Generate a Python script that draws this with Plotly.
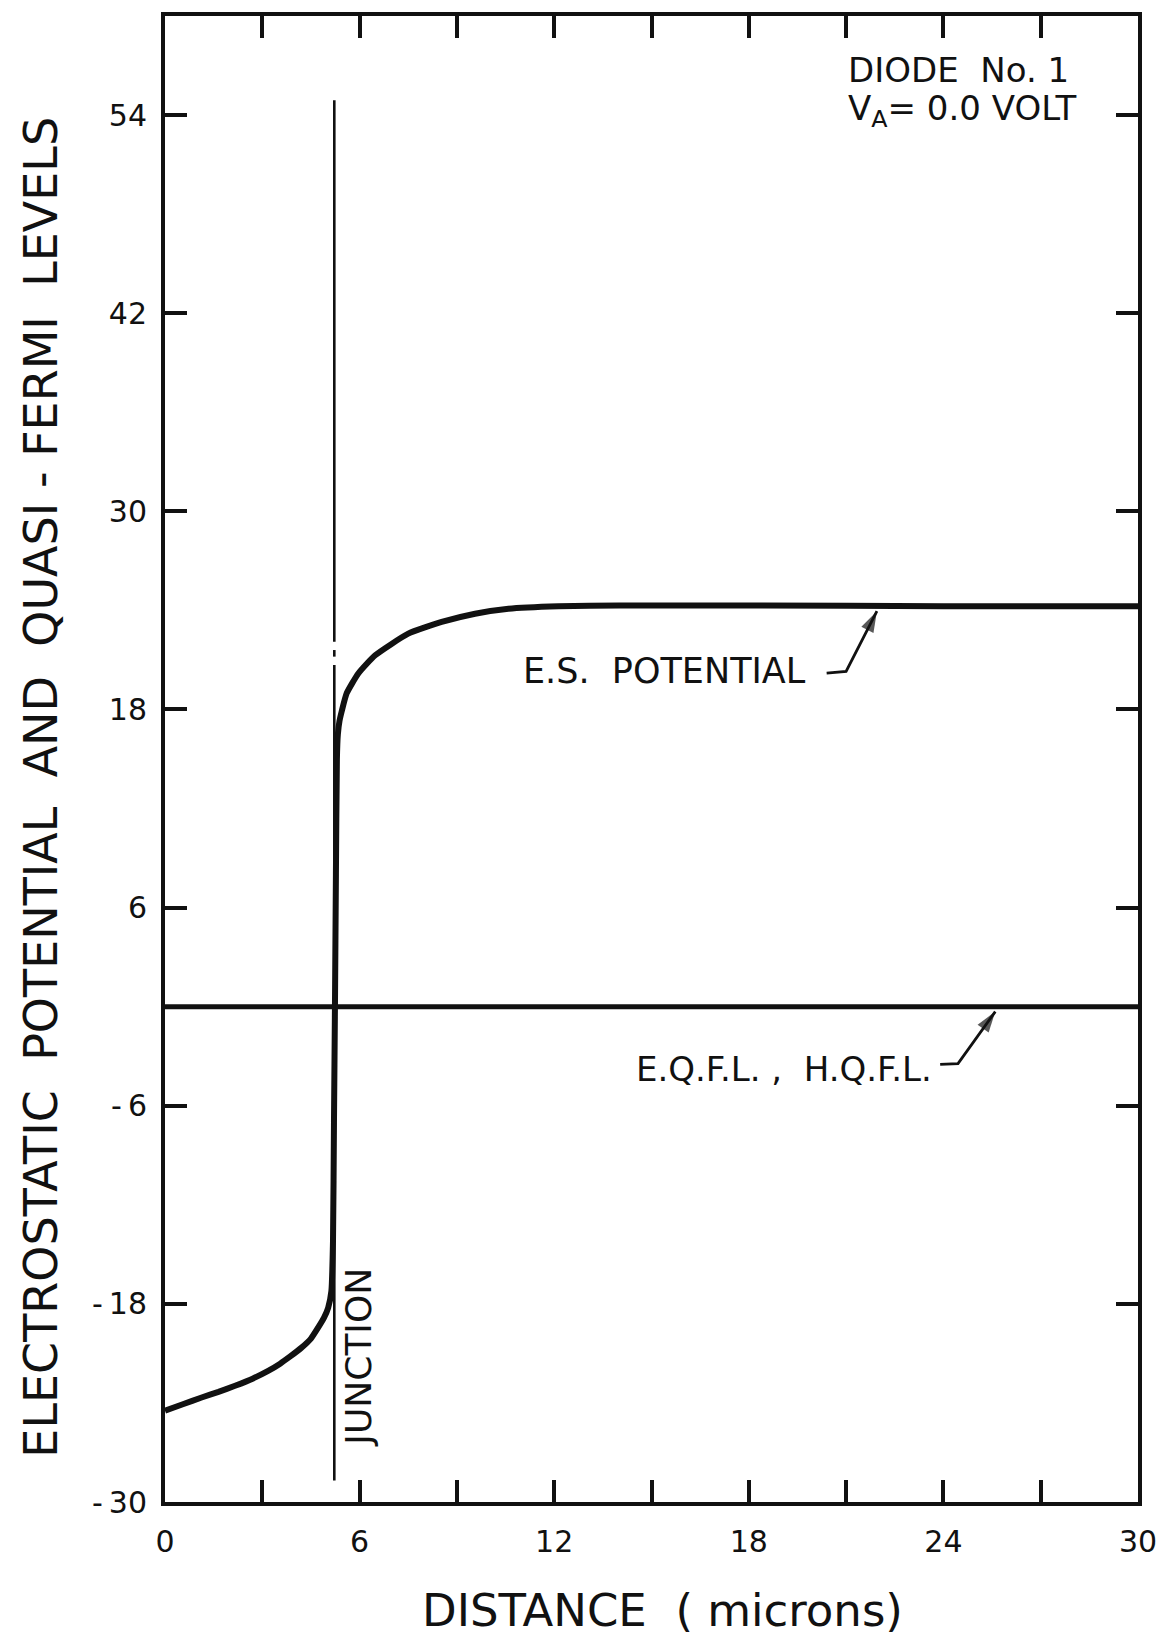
import plotly.graph_objects as go

# ---- data ----
es_x = [0, 0.55, 1.13, 1.65, 2.16, 2.7, 3.18, 3.55, 3.85, 4.21, 4.5, 4.72, 4.9, 5.03, 5.13, 5.18,
        5.21, 5.24, 5.27, 5.30, 5.33, 5.38, 5.45, 5.60, 5.96, 6.48, 7.50, 8.53, 9.56, 10.59,
        12.13, 14, 18, 24, 30]
es_y = [-24.47, -24.08, -23.67, -23.33, -22.96, -22.53, -22.06, -21.62, -21.2, -20.65, -20.1,
        -19.44, -18.85, -18.24, -17.23, -14.2, -7, 0, 8, 15.0, 16.5, 17.3, 17.9, 18.97, 20.18,
        21.28, 22.59, 23.30, 23.80, 24.10, 24.25, 24.3, 24.3, 24.25, 24.25]

qfl_x = [0, 30]
qfl_y = [0, 0]

junction_x = 5.22
junction_segments = [(54.9, 22.1), (21.6, 21.2), (20.7, -28.7)]

x_label_step = 6
x_tick_step = 3
y_tickvals = [-30, -18, -6, 6, 18, 30, 42, 54]
y_ticktext = ["-\u200930", "-\u200918", "-\u20096", "6", "18", "30", "42", "54"]

# label hooks: (dash start, bend, arrow tip)
es_hook_x = [20.4, 21.0, 21.95]
es_hook_y = [20.2, 20.3, 23.95]
qfl_hook_x = [23.9, 24.45, 25.6]
qfl_hook_y = [-3.5, -3.45, -0.3]

FONT = "DejaVu Sans"
INK = "#111111"
BODY = 8  # page body margin offset

fig = go.Figure()

fig.add_trace(go.Scatter(x=es_x, y=es_y, mode="lines",
                         line=dict(color=INK, width=6, shape="spline", smoothing=0.5),
                         showlegend=False, hoverinfo="skip"))
fig.add_trace(go.Scatter(x=qfl_x, y=qfl_y, mode="lines",
                         line=dict(color=INK, width=5), showlegend=False, hoverinfo="skip"))

jx, jy = [], []
for a, b in junction_segments:
    jx += [junction_x, junction_x, None]
    jy += [a, b, None]
fig.add_trace(go.Scatter(x=jx, y=jy, mode="lines",
                         line=dict(color=INK, width=2.6), showlegend=False, hoverinfo="skip"))

for hx, hy in ((es_hook_x, es_hook_y), (qfl_hook_x, qfl_hook_y)):
    fig.add_trace(go.Scatter(x=hx, y=hy, mode="lines+markers",
                             line=dict(color=INK, width=2.8),
                             marker=dict(symbol="arrow", size=[0, 0, 22], angleref="previous",
                                         color=INK, line=dict(width=0)),
                             showlegend=False, hoverinfo="skip"))

def txt(x, y, s, size, xanchor="center", yanchor="middle", **kw):
    fig.add_annotation(x=x, y=y, text=s, showarrow=False, xanchor=xanchor, yanchor=yanchor,
                       font=dict(family=FONT, size=size, color=INK), **kw)

NB = "\u00a0"
txt(15.4, 20.3, "E.S." + NB * 2 + "POTENTIAL", 35, xref="x", yref="y")
txt(19.1, -3.8, "E.Q.F.L." + NB + "," + NB * 2 + "H.Q.F.L.", 34, xref="x", yref="y")
txt(21.0, 56.7, "DIODE" + NB * 2 + "No. 1", 34, xref="x", yref="y", xanchor="left")
txt(21.0, 54.3, "V<sub>A</sub>= 0.0 VOLT", 34, xref="x", yref="y", xanchor="left")
txt(5.98, -21.2, "JUNCTION", 36, xref="x", yref="y", textangle=-90)

txt(-0.127, 0.481, "ELECTROSTATIC" + NB * 2 + "POTENTIAL" + NB * 2 + "AND" + NB * 2 + "QUASI" + NB + "-" + NB
    + "FERMI" + NB * 2 + "LEVELS", 46, xref="paper", yref="paper", textangle=-90)
txt(0.511, -0.073, "DISTANCE" + NB * 2 + "(" + NB + "microns)", 45, xref="paper", yref="paper")

axis_common = dict(showline=True, linecolor=INK, linewidth=4, mirror="ticks",
                   ticks="inside", ticklen=22, tickwidth=4, tickcolor=INK,
                   showgrid=False, zeroline=False,
                   tickfont=dict(family=FONT, size=30, color=INK))

fig.update_layout(
    width=1170 - BODY, height=1641 - BODY,
    margin=dict(l=165 - BODY, r=1170 - 1138, t=12 - BODY, b=1641 - 1502),
    paper_bgcolor="white", plot_bgcolor="white",
    xaxis=dict(range=[0, 30], tickmode="linear", tick0=0, dtick=x_label_step,
               minor=dict(tick0=0, dtick=x_tick_step, ticks="inside", ticklen=22, tickwidth=4,
                          tickcolor=INK, showgrid=False),
               ticklabelstandoff=10, **axis_common),
    yaxis=dict(range=[-30, 60], tickmode="array", tickvals=y_tickvals, ticktext=y_ticktext,
               ticklabelstandoff=8, **axis_common),
)

fig.write_html("out.html")
